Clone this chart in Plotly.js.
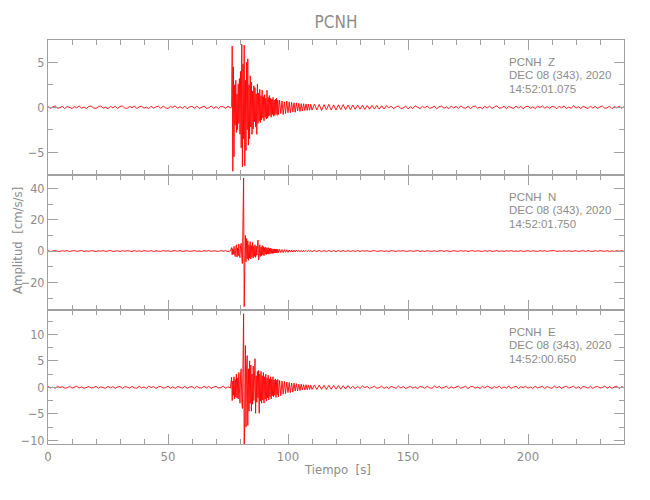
<!DOCTYPE html>
<html>
<head>
<meta charset="utf-8">
<script src="https://cdn.plot.ly/plotly-3.0.1.min.js"></script>
<style>html,body{margin:0;padding:0;background:#fff;}#chart{width:650px;height:500px;}</style>
</head>
<body>
<div id="chart"></div>
<script>
// ---- sampling of the hand-read traces (start time [s], step [s]) per segment ----
const segStarts = [0, 76.5, 96.5, 111];
const segSteps = [1, 0.25, 0.5, 1];

// ---- channel names and header texts ----
const station = "PCNH";
const channels = ["Z", "N", "E"];
const dateLabel = "DEC 08 (343), 2020";
const startTimes = ["14:52:01.075", "14:52:01.750", "14:52:00.650"];
const xTickVals = [0, 50, 100, 150, 200];

// ---- Z component (cm/s/s) ----
const zPre = [0.08,-0.12,0.05,0.15,-0.1,-0.04,0.12,-0.15,0.1,0.02,
 -0.13,0.09,-0.06,0.16,-0.11,0.04,-0.14,0.1,0.13,-0.08,
 -0.12,0.06,0.15,-0.1,0.03,-0.16,0.11,-0.05,0.12,-0.13,
 0.09,0.14,-0.07,-0.12,0.1,-0.04,0.15,-0.14,0.06,0.11,
 -0.1,0.03,-0.15,0.13,-0.09,0.05,0.12,-0.11,0.14,-0.06,
 -0.13,0.1,-0.02,0.16,-0.12,0.07,-0.1,0.13,-0.15,0.04,
 0.11,-0.09,0.14,-0.13,0.02,0.12,-0.1,-0.06,0.15,-0.12,
 0.08,-0.14,0.1,0.05,-0.11,0.13,-0.08];
const zEvent1 = [0.1,6.8,-7.1,4.5,-5.5,2.5,-2.0,3.0,-2.8,1.5,
 -2.5,2.6,-1.8,3.2,-3.0,4.0,-4.5,7.0,-6.6,4.8,
 -3.5,6.9,-6.5,3.0,-4.8,5.0,-2.5,5.4,-4.2,2.5,
 -3.5,3.5,-2.2,2.8,-3.0,1.8,-2.4,2.4,-1.6,2.2,
 -2.2,1.5,-3.0,2.6,-1.8,1.6,-1.5,2.0,-1.7,1.3,
 -1.4,1.9,-1.2,1.2,-1.5,1.4,-1.1,1.0,-1.3,1.9,
 -1.2,1.1,-1.0,1.3,-0.9,1.0,-1.1,0.9,-0.8,1.1,
 -1.0,0.8,-0.9,0.9,-0.7,1.0,-0.9,0.8,-0.8];
const zEvent2 = [0.8,-0.7,0.7,-0.8,0.6,-0.7,0.7,-0.6,0.6,-0.6,
 0.55,-0.5,0.5,-0.55,0.5,-0.4,0.45,-0.45,0.4,-0.4,
 0.4,-0.35,0.38,-0.35,0.35,-0.32,0.33,-0.3];
const zPost = [0.35,-0.3,0.32,-0.35,0.3,-0.28,0.33,-0.3,0.27,-0.3,
 0.28,-0.25,0.3,-0.26,0.25,-0.24,0.25,-0.22,0.24,-0.2,
 0.22,-0.23,0.2,-0.21,0.22,-0.19,0.2,-0.2,0.18,-0.19,
 0.17,-0.05,0.12,-0.16,0.04,0.15,-0.13,-0.08,0.14,-0.17,
 0.06,-0.12,0.16,0.03,-0.14,0.11,-0.06,0.15,-0.12,-0.03,
 0.13,-0.16,0.08,0.12,-0.1,0.05,-0.15,0.14,-0.07,0.1,
 -0.13,0.16,-0.04,-0.11,0.12,-0.14,0.07,0.15,-0.09,0.03,
 -0.15,0.11,-0.06,0.13,-0.12,0.04,0.16,-0.1,-0.05,0.12,
 -0.14,0.09,0.02,-0.13,0.15,-0.08,0.1,-0.16,0.06,0.13,
 -0.11,0.05,-0.14,0.12,-0.03,0.15,-0.1,0.08,-0.13,0.11,
 0.04,-0.15,0.12,-0.07,0.14,-0.12,0.03,-0.1,0.16,-0.09,
 0.06,-0.13,0.11,0.02,-0.14,0.13,-0.08,0.1,-0.12,0.05,
 0.14,-0.11,-0.04,0.12,-0.15,0.09,-0.06,0.13,-0.1,0.07];

// ---- N component (cm/s/s) ----
const nPre = [0.2,-0.28,0.05,0.3,-0.15,-0.25,0.22,-0.08,0.28,-0.3,
 0.1,0.26,-0.2,-0.05,0.3,-0.27,0.12,-0.18,0.25,0.04,
 -0.3,0.2,-0.1,0.28,-0.22,0.06,0.3,-0.26,-0.08,0.18,
 -0.24,0.27,-0.12,0.22,0.02,-0.28,0.3,-0.16,0.1,-0.25,
 0.26,-0.06,-0.2,0.29,-0.3,0.14,0.08,-0.22,0.27,-0.12,
 0.2,-0.28,0.04,0.25,-0.18,0.3,-0.24,-0.06,0.22,-0.3,
 0.12,0.28,-0.2,0.06,-0.27,0.24,-0.1,0.3,-0.22,0.15,
 -0.04,-0.26,0.29,-0.14,0.2,-0.28,0.1];
const nEvent1 = [2.2,-2.5,1.5,-2.0,3.0,-1.8,-3.5,2.5,4.0,-3.8,
 2.0,-3.0,4.5,-2.5,-4.2,3.5,5.0,-4.0,-8.0,21.0,
 46.5,-35.5,-12.0,10.0,-6.8,8.0,-5.0,6.5,-6.0,4.0,
 -4.5,6.0,-5.0,3.5,-3.8,5.5,-4.5,3.0,-3.5,4.0,
 -4.0,3.2,-2.8,4.5,7.0,-5.7,-3.0,4.0,-3.5,2.5,
 -3.0,3.5,-2.5,2.8,-3.0,2.2,-2.0,2.5,-2.2,2.0,
 -1.8,2.2,-2.0,1.6,-1.7,1.8,-1.5,1.5,-1.6,1.3,
 -1.4,1.4,-1.2,1.3,-1.3,1.1,-1.2,1.2,-1.0];
const nEvent2 = [1.1,-1.0,0.9,-1.0,0.9,-0.8,0.8,-0.8,0.7,-0.7,
 0.7,-0.6,0.6,-0.6,0.55,-0.5,0.5,-0.5,0.45,-0.45,
 0.4,-0.4,0.4,-0.38,0.38,-0.35,0.35,-0.35];
const nPost = [0.4,-0.35,0.38,-0.4,0.36,-0.34,0.37,-0.36,0.33,-0.35,
 0.34,-0.32,0.33,-0.3,0.31,-0.33,0.3,-0.29,0.31,-0.3,
 0.26,-0.08,0.2,-0.27,0.05,0.25,-0.2,-0.12,0.24,-0.26,
 0.1,-0.28,0.25,0.03,-0.24,0.2,-0.06,0.28,-0.23,-0.1,
 0.25,-0.2,0.07,0.27,-0.25,0.12,-0.28,0.24,-0.04,-0.2,
 0.21,-0.27,0.15,0.25,-0.23,0.28,-0.1,-0.26,0.22,0.05,
 -0.25,0.27,-0.14,0.23,-0.28,0.08,0.25,-0.22,0.2,-0.06,
 -0.24,0.25,-0.18,0.28,-0.22,-0.04,0.26,-0.23,0.12,-0.27,
 0.22,-0.1,0.26,-0.24,0.05,-0.21,0.28,-0.25,0.14,0.2,
 -0.25,0.22,-0.06,-0.27,0.26,-0.13,0.24,-0.28,0.1,0.23,
 0.28,-0.24,0.08,-0.2,0.27,-0.26,0.16,-0.25,0.02,0.22,
 -0.27,0.13,0.22,-0.25,0.28,-0.11,-0.24,0.25,-0.18,0.26,
 -0.06,-0.22,0.25,-0.28,0.12,-0.24,0.27,-0.15,0.24,-0.2];

// ---- E component (cm/s/s) ----
const ePre = [0.15,-0.1,0.02,-0.18,0.2,-0.05,0.12,-0.16,-0.08,0.19,
 -0.15,0.06,0.2,-0.14,0.1,-0.19,0.03,0.15,-0.13,-0.06,
 0.19,-0.17,0.09,-0.02,-0.18,0.2,-0.11,0.14,-0.19,0.05,
 0.16,-0.2,0.12,0.04,-0.14,0.17,-0.09,-0.16,0.2,-0.12,
 0.07,-0.18,0.19,-0.04,0.13,-0.2,0.1,0.16,-0.15,-0.03,
 0.2,-0.14,0.08,-0.19,0.15,0.03,-0.16,0.18,-0.2,0.06,
 0.12,-0.17,0.19,-0.08,-0.13,0.2,-0.1,0.15,-0.19,0.04,
 0.17,-0.12,-0.05,0.2,-0.16,0.09,-0.14];
const eEvent1 = [1.9,-2.5,1.2,-1.5,2.0,-2.2,1.5,-1.8,2.5,-2.0,
 1.8,-2.2,2.8,-1.5,-3.0,2.5,3.5,-2.8,-4.0,5.0,
 13.9,-11.5,-6.0,7.9,-7.5,4.0,6.0,-7.2,3.5,-4.5,
 5.0,-3.0,4.2,-4.5,2.5,-3.2,4.0,-2.5,3.0,5.4,
 -4.9,2.2,-2.8,3.0,-2.0,3.2,-4.9,2.5,-2.6,3.0,
 -3.0,2.2,-2.4,2.8,-3.0,2.0,-2.2,2.5,-2.6,1.8,
 -2.0,2.3,-2.4,1.6,-1.8,2.0,-2.2,1.5,-1.6,2.0,
 -1.8,1.4,-1.5,1.6,-1.9,1.3,-1.4,1.5,-1.8];
const eEvent2 = [1.3,-1.6,1.2,-1.3,1.1,-1.2,1.0,-1.0,0.9,-1.0,
 0.8,-0.9,0.8,-0.7,0.7,-0.7,0.6,-0.6,0.6,-0.5,
 0.5,-0.5,0.5,-0.45,0.45,-0.4,0.4,-0.4];
const ePost = [0.45,-0.4,0.42,-0.38,0.4,-0.42,0.36,-0.35,0.38,-0.34,
 0.33,-0.35,0.3,-0.32,0.31,-0.22,0.2,-0.24,0.19,-0.21,
 0.23,-0.05,0.16,-0.22,0.02,0.2,-0.17,-0.08,0.21,-0.2,
 0.1,-0.22,0.18,0.04,-0.19,0.22,-0.12,0.16,-0.21,-0.03,
 0.2,-0.16,0.08,-0.23,0.15,0.05,-0.2,0.21,-0.1,-0.17,
 0.22,-0.06,0.18,-0.2,0.02,0.19,-0.22,0.12,-0.15,0.06,
 0.21,-0.18,-0.04,0.2,-0.23,0.1,0.17,-0.16,0.05,-0.21,
 0.19,-0.12,0.22,-0.02,-0.2,0.16,-0.09,0.23,-0.18,0.07,
 -0.14,0.21,-0.2,0.03,0.18,-0.22,0.12,-0.06,0.2,-0.17,
 0.08,-0.21,0.22,-0.13,0.04,0.19,-0.2,0.15,-0.08,-0.18,
 0.22,-0.1,0.17,-0.22,0.06,0.2,-0.15,-0.04,0.21,-0.19,
 0.12,-0.23,0.18,0.02,-0.16,0.2,-0.21,0.09,0.16,-0.12,
 -0.05,0.22,-0.18,0.13,-0.2,0.07,0.19,-0.22,0.15,-0.1];

// ---- build traces ----
function build(segs) {
  const t = [], v = [];
  segs.forEach((vals, k) => {
    vals.forEach((val, i) => { t.push(segStarts[k] + i * segSteps[k]); v.push(val); });
  });
  return {t, v};
}
const comps = [
  build([zPre, zEvent1, zEvent2, zPost]),
  build([nPre, nEvent1, nEvent2, nPost]),
  build([ePre, eEvent1, eEvent2, ePost])
];

const axisNames = [["x", "y"], ["x2", "y2"], ["x3", "y3"]];
const traces = comps.map((c, k) => ({
  type: "scatter", mode: "lines", x: c.t, y: c.v,
  xaxis: axisNames[k][0], yaxis: axisNames[k][1],
  line: {color: "#ff0000", width: 0.9}, hoverinfo: "skip", showlegend: false
}));

// ---- layout ----
const FONT = "'Liberation Sans Narrow', 'DejaVu Sans Condensed', 'Liberation Sans', sans-serif";
const GRAY = "#a0a0a0";
const TXT = "#8c8c8c";
const L = 48, R = 624, T = 40, B = 444;
const panelTops = [40, 175, 310];
const panelBots = [175, 310, 444];
const px = p => (p - L) / (R - L);
const py = p => (B - p) / (B - T);

function xAxis(k) {
  return {
    domain: [0, 1], range: [0, 240], anchor: axisNames[k][1],
    tickvals: xTickVals, ticks: "inside", ticklen: 10, tickwidth: 1, tickcolor: GRAY,
    minor: {dtick: 10, ticklen: 5, ticks: "inside", tickcolor: GRAY, showgrid: false},
    showline: true, linecolor: GRAY, linewidth: 1, mirror: "ticks",
    showgrid: false, zeroline: false, showticklabels: k === 2,
    tickfont: {family: FONT, size: 13, color: TXT}, fixedrange: true
  };
}
function yAxis(k, range, dtick, minor) {
  return {
    domain: [py(panelBots[k]), py(panelTops[k])], range: range, anchor: axisNames[k][0],
    dtick: dtick, tick0: 0, ticks: "inside", ticklen: 10, tickwidth: 1, tickcolor: GRAY,
    minor: {dtick: minor, tick0: 0, ticklen: 5, ticks: "inside", tickcolor: GRAY, showgrid: false},
    showline: true, linecolor: GRAY, linewidth: 1, mirror: "ticks",
    showgrid: false, zeroline: false,
    tickfont: {family: FONT, size: 12.5, color: TXT}, fixedrange: true
  };
}

const annotations = [];
channels.forEach((ch, k) => {
  const top = panelTops[k];
  const lines = [[station, 506.7, top + 21.5], [ch, 545.7, top + 21.5],
                 [dateLabel, 506.7, top + 35], [startTimes[k], 506.7, top + 48.7]];
  lines.forEach(([txt, xp, yp]) => annotations.push({
    text: txt, xref: "paper", yref: "paper", x: px(xp), y: py(yp),
    xanchor: "left", yanchor: "middle", showarrow: false,
    font: {family: "'Liberation Sans', sans-serif", size: 11.5, color: TXT}
  }));
});
annotations.push({
  text: "Amplitud  [cm/s/s]", xref: "paper", yref: "paper", x: px(17), y: py(241),
  xanchor: "center", yanchor: "middle", textangle: -90, showarrow: false,
  font: {family: FONT, size: 13, color: TXT}
});
annotations.push({
  text: "Tiempo  [s]", xref: "paper", yref: "paper", x: px(337), y: py(469),
  xanchor: "center", yanchor: "middle", showarrow: false,
  font: {family: FONT, size: 13, color: TXT}
});

const layout = {
  width: 650, height: 500,
  margin: {l: L, r: 650 - R, t: T, b: 500 - B},
  paper_bgcolor: "#ffffff", plot_bgcolor: "#ffffff",
  title: {text: station, x: px(336), xref: "paper", y: 1 - 22 / 500, yanchor: "middle",
          font: {family: FONT, size: 17, color: TXT}},
  xaxis: xAxis(0), xaxis2: xAxis(1), xaxis3: xAxis(2),
  yaxis: yAxis(0, [-7.52, 7.48], 5, 2.5),
  yaxis2: yAxis(1, [-37.6, 48.5], 20, 10),
  yaxis3: yAxis(2, [-10.7, 14.6], 5, 2.5),
  annotations: annotations,
  showlegend: false
};

Plotly.newPlot("chart", traces, layout, {displayModeBar: false, staticPlot: true});
</script>
</body>
</html>
